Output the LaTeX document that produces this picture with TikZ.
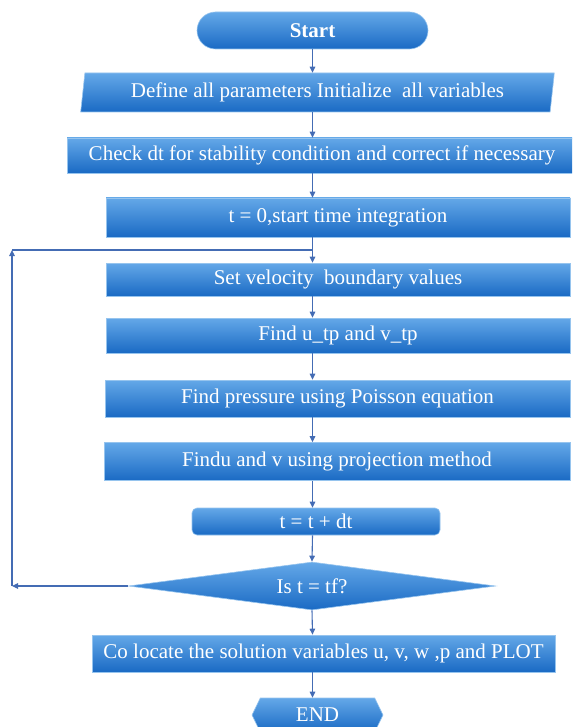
\documentclass[tikz,border=0pt]{standalone}
\usepackage{fontspec}
\setmainfont{Liberation Serif}
\usetikzlibrary{shapes.geometric,shapes.misc,shapes.symbols,arrows.meta}
\definecolor{boxtop}{RGB}{100,168,232}
\definecolor{boxbot}{RGB}{26,106,196}
\definecolor{boxedge}{RGB}{150,196,238}
\definecolor{linec}{RGB}{68,108,180}
\begin{document}
\begin{tikzpicture}[x=1pt,y=-1pt,
  box/.style={rectangle, top color=boxtop, bottom color=boxbot, draw=boxedge, line width=0.6pt,
    text=white, font=\fontsize{21}{25}\selectfont, inner sep=0pt},
  arr/.style={draw=linec, line width=1.1pt, -{Triangle[length=6pt,width=5.5pt]}},
  ln/.style={draw=linec, line width=1.1pt}]
\useasboundingbox (0,0) rectangle (572,727);
\begin{scope}
\clip (0,0) rectangle (572,727);
\node[box, rounded rectangle, minimum width=231, minimum height=37, font=\fontsize{21}{25}\selectfont\bfseries] (start) at (312.5,30.5) {Start};
\node[box, trapezium, trapezium left angle=80, trapezium right angle=100, trapezium stretches=true,
      minimum width=475, minimum height=39] (define) at (317.5,92.5) {Define all parameters Initialize\ \ all variables};
\node[box, minimum width=510, minimum height=35] (check) at (322,155.5) {Check dt for stability condition and correct if necessary};
\node[box, minimum width=464, minimum height=39] (t0) at (338,217.5) {t = 0,start time integration};
\node[box, minimum width=464, minimum height=33] (setv) at (338,279.5) {Set velocity\ \ boundary values};
\node[box, minimum width=464, minimum height=35] (findtp) at (338,335.5) {Find u\_tp and v\_tp};
\node[box, minimum width=465, minimum height=37] (findp) at (337.5,398.5) {Find pressure using Poisson equation};
\node[box, minimum width=466, minimum height=38] (finduv) at (337,461.5) {Findu and v using projection method};
\node[box, rounded corners=5pt, minimum width=248, minimum height=27] (tdt) at (316,521.5) {t = t + dt};
\node[box, diamond, aspect=7.6, minimum width=367, minimum height=48] (dia) at (312,586) {Is t = tf?};
\node[box, minimum width=463, minimum height=37] (coloc) at (323.5,653.5) {Co locate the solution variables u, v, w ,p and PLOT};
\node[box, signal, signal to=west and east, signal pointer angle=128, minimum width=131, minimum height=34] (endn) at (317.5,715) {END};

\draw[arr] (start.south) -- (start.south |- define.north);
\draw[arr] (start.south |- define.south) -- (start.south |- check.north);
\draw[arr] (start.south |- check.south) -- (start.south |- t0.north);
\draw[arr] (start.south |- t0.south) -- (start.south |- setv.north);
\draw[arr] (start.south |- setv.south) -- (start.south |- findtp.north);
\draw[arr] (start.south |- findtp.south) -- (start.south |- findp.north);
\draw[arr] (start.south |- findp.south) -- (start.south |- finduv.north);
\draw[arr] (start.south |- finduv.south) -- (start.south |- tdt.north);
\draw[arr] (start.south |- tdt.south) -- (dia.north);
\draw[arr] (dia.south) -- (start.south |- coloc.north);
\draw[arr] (start.south |- coloc.south) -- (start.south |- endn.north);

\coordinate (lb) at (12,586);
\coordinate (lt) at (12,250);
\draw[arr] (dia.west) -- (lb);
\draw[arr] (lb) -- (lt);
\draw[ln] (lt) -- (start.south |- lt);
\end{scope}
\end{tikzpicture}
\end{document}
